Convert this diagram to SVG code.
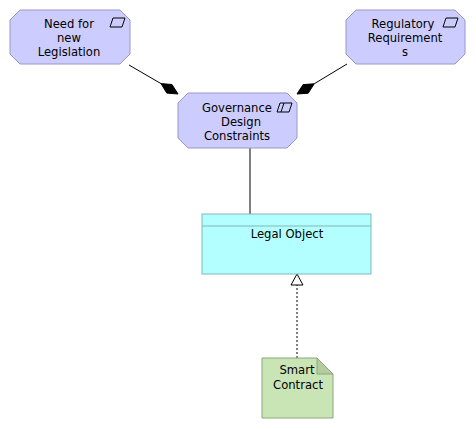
<svg xmlns="http://www.w3.org/2000/svg" width="476" height="429" viewBox="0 0 476 429">
<style>
text{font-family:"DejaVu Sans","Liberation Sans",sans-serif;font-size:11.6px;fill:#000;text-anchor:middle}
.mot{fill:#ccccff;stroke:#9898c8;stroke-width:1}
.icon{fill:none;stroke:#000;stroke-width:1}
.conn{stroke:#000;stroke-width:1;fill:none}
</style>
<rect width="476" height="429" fill="#fff"/>
<g id="connectors">
<line class="conn" x1="129" y1="65" x2="161" y2="83.6"/>
<polygon points="161,83.6 172,84.5 178,94 166.8,93.1" fill="#000" stroke="#000"/>
<line class="conn" x1="347" y1="64" x2="314.2" y2="83.8"/>
<polygon points="314.2,83.8 308.2,93.2 297,94 303.1,84.6" fill="#000" stroke="#000"/>
<line class="conn" x1="250" y1="148" x2="250" y2="214"/>
<line class="conn" x1="297" y1="358" x2="297" y2="285" stroke-dasharray="2,2"/>
<polygon points="297,274 291,285 303,285" fill="#fff" stroke="#000"/>
</g>
<g id="need-for-new-legislation">
<polygon class="mot" points="20,10 120,10 130,20 130,54 120,64 20,64 10,54 10,20"/>
<polygon class="icon" points="113,18 125,18 122,27 110,27"/>
<text x="69" y="28">Need for</text>
<text x="69" y="42">new</text>
<text x="69" y="56">Legislation</text>
</g>
<g id="regulatory-requirements">
<polygon class="mot" points="356,10 455,10 465,20 465,54 455,64 356,64 346,54 346,20"/>
<polygon class="icon" points="446,18 458,18 455,27 443,27"/>
<text x="403" y="28">Regulatory</text>
<text x="405" y="42">Requirement</text>
<text x="405" y="56">s</text>
</g>
<g id="governance-design-constraints">
<polygon class="mot" points="188,93 287,93 297,103 297,138 287,148 188,148 178,138 178,103"/>
<polygon class="icon" points="280,103 292,103 289,112 277,112"/>
<line class="icon" x1="284" y1="103" x2="281" y2="112"/>
<text x="237" y="112">Governance</text>
<text x="241" y="126">Design</text>
<text x="237" y="140">Constraints</text>
</g>
<g id="legal-object">
<rect x="202" y="214" width="169" height="60" fill="#b3ffff" stroke="#80b8b8"/>
<line x1="202" y1="226" x2="371" y2="226" stroke="#80b8b8"/>
<text x="287" y="238">Legal Object</text>
</g>
<g id="smart-contract">
<polygon points="262,358 317,358 333,374 333,418 262,418" fill="#c9e5b5" stroke="#8ca67c"/>
<polygon points="317,358 317,374 333,374" fill="#b3cca0" stroke="#8ca67c"/>
<text x="297" y="374">Smart</text>
<text x="298" y="389">Contract</text>
</g>
</svg>
